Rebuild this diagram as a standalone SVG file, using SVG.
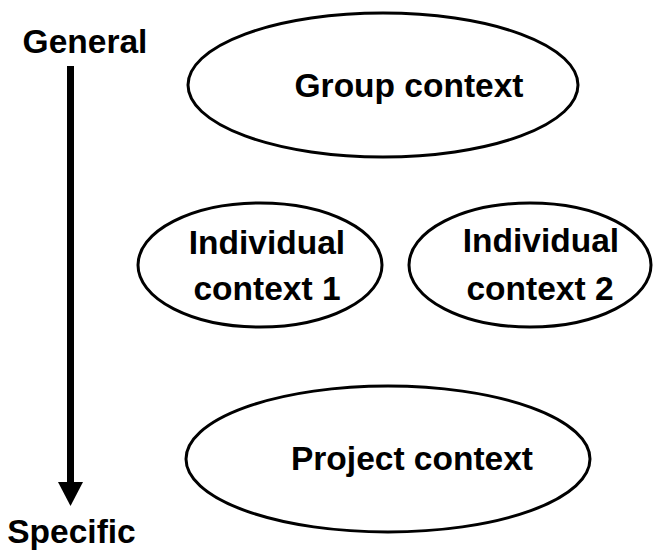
<svg xmlns="http://www.w3.org/2000/svg" width="653" height="551" viewBox="0 0 653 551">
<style>
.n{fill:#fff;stroke:#000;stroke-width:3}
.t{font-family:"Liberation Sans",Arial,sans-serif;font-weight:bold;font-size:33.5px;fill:#000;text-anchor:middle}
</style>
<defs>
<marker id="ah" markerUnits="userSpaceOnUse" markerWidth="26" markerHeight="26" refX="0" refY="12.5" orient="auto" viewBox="0 0 26 25">
<path d="M0,0 L24,12.5 L0,25 Z" fill="#000"/>
</marker>
</defs>
<rect width="653" height="551" fill="#fff"/>
<g id="connectors">
<line x1="70.5" y1="66" x2="70.5" y2="482" stroke="#000" stroke-width="7" marker-end="url(#ah)"/>
</g>
<g id="general"><text class="t" x="85" y="53">General</text></g>
<g id="specific"><text class="t" x="71.5" y="543">Specific</text></g>
<g id="group"><ellipse class="n" cx="383" cy="85" rx="195" ry="72"/><text class="t" x="409" y="97">Group context</text></g>
<g id="ind1"><ellipse class="n" cx="260" cy="265" rx="122" ry="62"/><text class="t" x="267" y="254">Individual</text><text class="t" x="267" y="300">context 1</text></g>
<g id="ind2"><ellipse class="n" cx="530" cy="265" rx="121" ry="62"/><text class="t" x="541" y="252">Individual</text><text class="t" x="540" y="300">context 2</text></g>
<g id="project"><ellipse class="n" cx="388" cy="459" rx="202" ry="73"/><text class="t" x="412" y="470">Project context</text></g>
</svg>
